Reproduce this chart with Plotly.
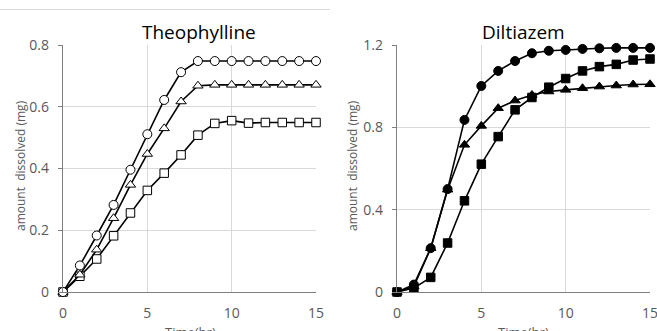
import plotly.graph_objects as go

time = list(range(16))

theo_circle = [0, 0.086, 0.183, 0.282, 0.396, 0.511, 0.622, 0.712, 0.748, 0.748, 0.748, 0.748, 0.748, 0.748, 0.748, 0.748]
theo_triangle = [0, 0.056, 0.137, 0.239, 0.347, 0.447, 0.530, 0.617, 0.668, 0.671, 0.671, 0.671, 0.671, 0.671, 0.671, 0.671]
theo_square = [0, 0.051, 0.107, 0.182, 0.256, 0.329, 0.385, 0.444, 0.508, 0.546, 0.555, 0.547, 0.549, 0.549, 0.549, 0.549]

dil_circle = [0, 0.036, 0.213, 0.500, 0.836, 1.001, 1.074, 1.122, 1.160, 1.172, 1.176, 1.181, 1.184, 1.186, 1.186, 1.186]
dil_triangle = [0, 0.027, 0.213, 0.497, 0.715, 0.807, 0.893, 0.930, 0.957, 0.974, 0.982, 0.990, 0.998, 1.003, 1.008, 1.009]
dil_square = [0, 0.019, 0.071, 0.238, 0.443, 0.621, 0.755, 0.885, 0.945, 0.995, 1.037, 1.074, 1.095, 1.106, 1.127, 1.132]

left_yticks = [0, 0.2, 0.4, 0.6, 0.8]
left_ylabels = ["0", "0.2", "0.4", "0.6", "0.8"]
right_yticks = [0, 0.4, 0.8, 1.2]
right_ylabels = ["0", "0.4", "0.8", "1.2"]
xticks = [0, 5, 10, 15]

FONT = "Open Sans"
GRAY = "#595959"

fig = go.Figure()

def add(x, y, sym, fill, xa, ya):
    fig.add_trace(go.Scatter(
        x=x, y=y, mode="lines+markers", xaxis=xa, yaxis=ya,
        line=dict(color="black", width=1.6),
        marker=dict(symbol=sym, size=9 if sym != "square" else 8.5, color=fill,
                    line=dict(color="black", width=1)),
        cliponaxis=False, showlegend=False, hoverinfo="skip"))

add(time, theo_square, "square", "white", "x", "y")
add(time, theo_triangle, "triangle-up", "white", "x", "y")
add(time, theo_circle, "circle", "white", "x", "y")
add(time, dil_square, "square", "black", "x2", "y2")
add(time, dil_triangle, "triangle-up", "black", "x2", "y2")
add(time, dil_circle, "circle", "black", "x2", "y2")

W, H = 657, 331

def px_x(p):
    return p / W

def px_y(p):
    return 1 - p / H

ydom = [px_y(292), px_y(45)]

common = dict(showgrid=True, gridcolor="#d9d9d9", gridwidth=1, zeroline=False,
              showline=True, linecolor="#7f7f7f", linewidth=1.3, automargin=False,
              ticklabeloverflow="allow",
              tickfont=dict(family=FONT, size=14, color=GRAY))
xcommon = dict(ticks="", ticklabelstandoff=8, **common)
ycommon = dict(ticks="outside", ticklen=4, tickcolor="#7f7f7f", ticklabelstandoff=6, **common)

fig.update_layout(
    template="none",
    width=W, height=H, margin=dict(l=0, r=0, t=0, b=0),
    paper_bgcolor="white", plot_bgcolor="white",
    xaxis=dict(domain=[px_x(63), px_x(316)], range=[0, 15], tickvals=xticks, anchor="y", **xcommon),
    yaxis=dict(domain=ydom, range=[0, 0.8], tickvals=left_yticks, ticktext=left_ylabels, anchor="x", **ycommon),
    xaxis2=dict(domain=[px_x(397), px_x(650)], range=[0, 15], tickvals=xticks, anchor="y2", **xcommon),
    yaxis2=dict(domain=ydom, range=[0, 1.2], tickvals=right_yticks, ticktext=right_ylabels, anchor="x2", **ycommon),
)

ann = []
for cx, title in [(199, "Theophylline"), (523, "Diltiazem")]:
    ann.append(dict(x=px_x(cx), y=px_y(32), xref="paper", yref="paper", text=title,
                    showarrow=False, font=dict(family=FONT, size=19, color="black"),
                    xanchor="center", yanchor="middle"))
for cx in [190, 523]:
    ann.append(dict(x=px_x(cx), y=px_y(321), xref="paper", yref="paper", text="Time(hr)",
                    showarrow=False, font=dict(family=FONT, size=13, color=GRAY),
                    xanchor="center", yanchor="top"))
for p in [20, 352]:
    ann.append(dict(x=px_x(p), y=px_y(166), xref="paper", yref="paper", text="amount  dissolved (mg)",
                    showarrow=False, textangle=-90, font=dict(family=FONT, size=12, color=GRAY),
                    xanchor="center", yanchor="middle"))
fig.update_layout(annotations=ann)

fig.add_shape(type="line", xref="paper", yref="paper", x0=0, x1=px_x(330),
              y0=px_y(9.5), y1=px_y(9.5), line=dict(color="#d9d9d9", width=1))

fig.write_html("out.html", config={"displayModeBar": False},
               post_script="document.body.style.margin='0';document.body.style.overflow='hidden';")
